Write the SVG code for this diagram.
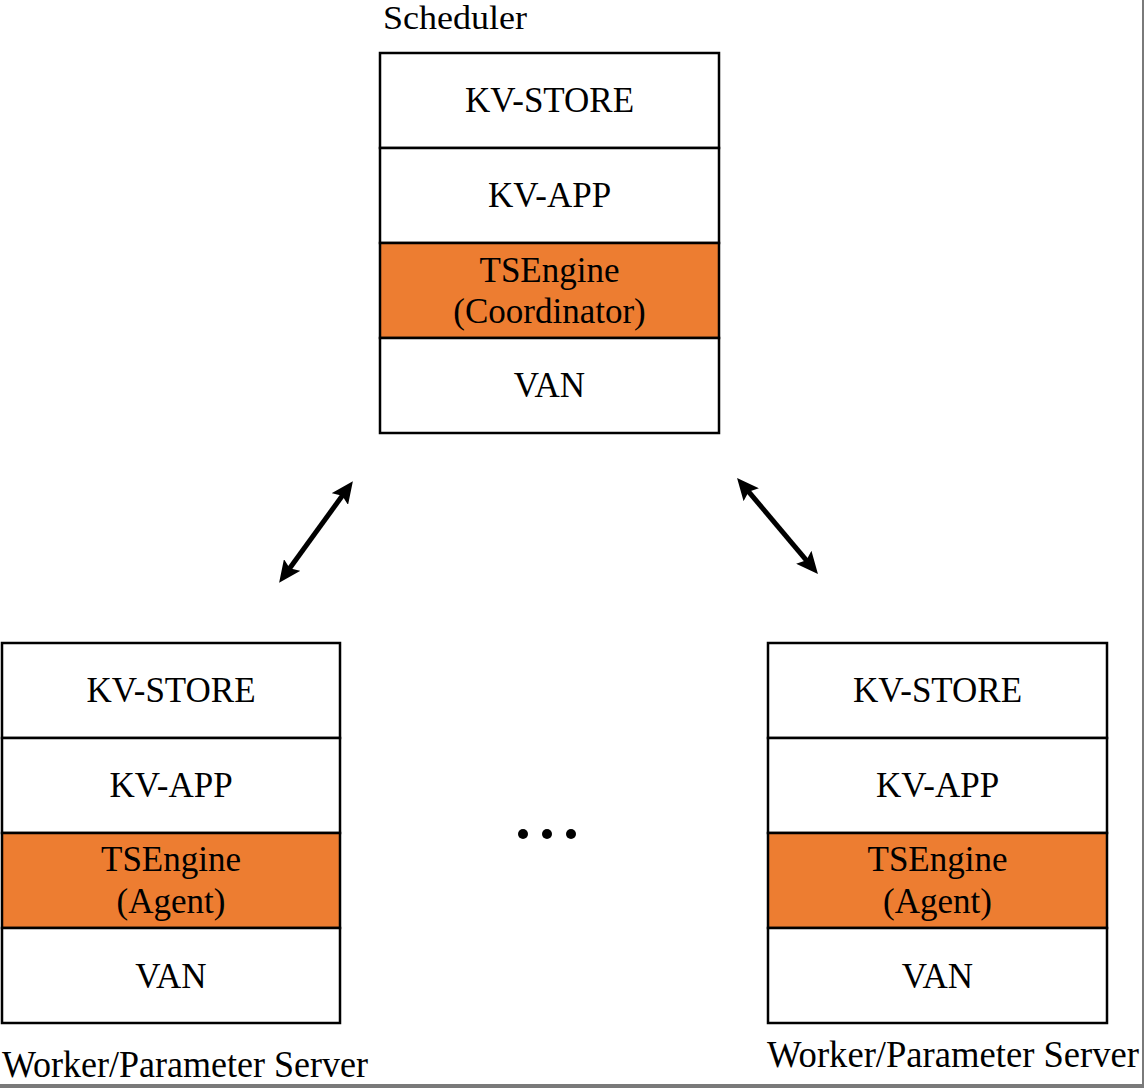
<svg xmlns="http://www.w3.org/2000/svg" width="1144" height="1088" viewBox="0 0 1144 1088">
  <style>
    .cell { fill: #ffffff; stroke: #000000; stroke-width: 2.5; }
    .hot { fill: #ED7D31; stroke: #000000; stroke-width: 2.5; }
    text { font-family: 'Liberation Serif', 'Times New Roman', 'DejaVu Serif', serif; fill: #000000; }
    .t { font-size: 35px; text-anchor: middle; }
    .lbl { font-size: 37px; }
    .conn { stroke: #000000; stroke-width: 5; fill: none; }
  </style>
  <defs>
    <marker id="ah" markerUnits="userSpaceOnUse" markerWidth="22" markerHeight="20" viewBox="0 0 22 20" refX="12" refY="10" orient="auto-start-reverse">
      <path d="M0,0 L22,10 L0,20 L4,10 z" fill="#000000"/>
    </marker>
  </defs>
  <rect x="0" y="0" width="1144" height="1088" fill="#ffffff"/>
  <rect x="1142" y="0" width="2" height="1088" fill="#7a7a7a"/>
  <rect x="0" y="1084" width="1144" height="4" fill="#7a7a7a"/>

  <g id="scheduler">
    <text class="lbl" x="383" y="29" textLength="144" lengthAdjust="spacingAndGlyphs" style="font-size:34px">Scheduler</text>
    <rect class="cell" x="380" y="53" width="339" height="95"/>
    <rect class="cell" x="380" y="148" width="339" height="95"/>
    <rect class="hot" x="380" y="243" width="339" height="95"/>
    <rect class="cell" x="380" y="338" width="339" height="95"/>
    <text class="t" x="549.5" y="112">KV-STORE</text>
    <text class="t" x="549.5" y="207">KV-APP</text>
    <text class="t" x="549.5" y="282">TSEngine</text>
    <text class="t" x="549.5" y="323">(Coordinator)</text>
    <text class="t" x="549.5" y="397">VAN</text>
  </g>

  <g id="worker-left">
    <rect class="cell" x="2" y="643" width="338" height="95"/>
    <rect class="cell" x="2" y="738" width="338" height="95"/>
    <rect class="hot" x="2" y="833" width="338" height="95"/>
    <rect class="cell" x="2" y="928" width="338" height="95"/>
    <text class="t" x="171" y="702">KV-STORE</text>
    <text class="t" x="171" y="797">KV-APP</text>
    <text class="t" x="171" y="871">TSEngine</text>
    <text class="t" x="171" y="913">(Agent)</text>
    <text class="t" x="171" y="988">VAN</text>
    <text class="lbl" x="2" y="1077" textLength="366" lengthAdjust="spacingAndGlyphs">Worker/Parameter Server</text>
  </g>

  <g id="worker-right">
    <rect class="cell" x="768" y="643" width="339" height="95"/>
    <rect class="cell" x="768" y="738" width="339" height="95"/>
    <rect class="hot" x="768" y="833" width="339" height="95"/>
    <rect class="cell" x="768" y="928" width="339" height="95"/>
    <text class="t" x="937.5" y="702">KV-STORE</text>
    <text class="t" x="937.5" y="797">KV-APP</text>
    <text class="t" x="937.5" y="871">TSEngine</text>
    <text class="t" x="937.5" y="913">(Agent)</text>
    <text class="t" x="937.5" y="988">VAN</text>
    <text class="lbl" x="767" y="1067" textLength="372" lengthAdjust="spacingAndGlyphs">Worker/Parameter Server</text>
  </g>

  <g id="ellipsis">
    <circle cx="523" cy="834" r="5"/>
    <circle cx="547" cy="834" r="5"/>
    <circle cx="571" cy="834" r="5"/>
  </g>

  <g id="connectors">
    <path class="conn" d="M285,574.7 L347,489.3" marker-start="url(#ah)" marker-end="url(#ah)"/>
    <path class="conn" d="M743.5,485.6 L811.5,566.4" marker-start="url(#ah)" marker-end="url(#ah)"/>
  </g>
</svg>
